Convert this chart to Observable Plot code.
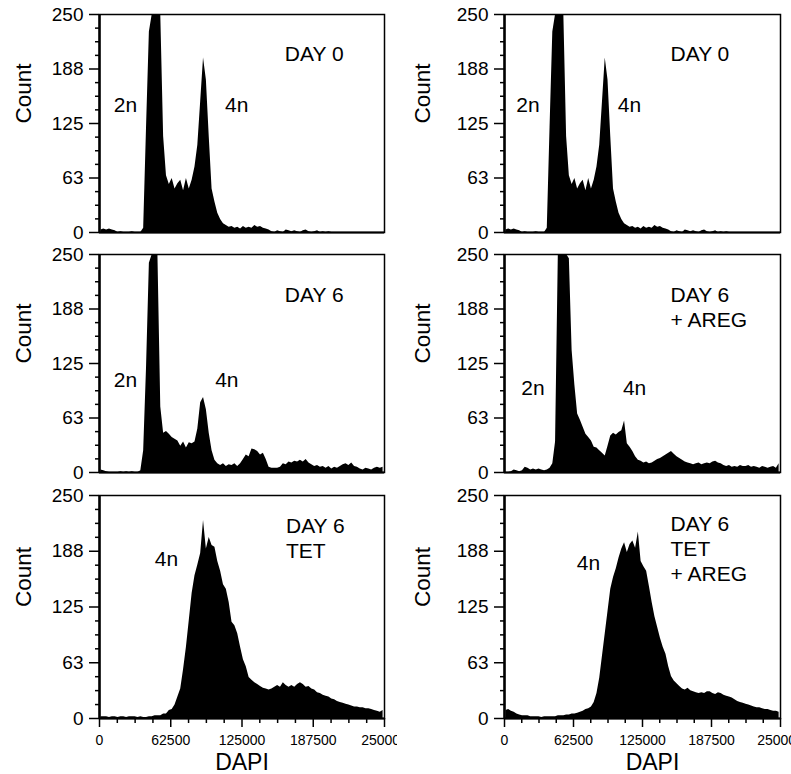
<!DOCTYPE html>
<html><head><meta charset="utf-8">
<script src="https://cdn.jsdelivr.net/npm/d3@7"></script>
<script src="https://cdn.jsdelivr.net/npm/@observablehq/plot@0.6"></script>
<style>
body{margin:0;background:#fff}
#fig{position:relative;width:791px;height:774px;background:#fff;overflow:hidden;font-family:"Liberation Sans",Arial,sans-serif}
</style>
</head><body><div id="fig"></div>
<script>
// DAPI channel bin width (each value below is one bin, from 0 to 250000)
const binWidth = 2500;

const day0 = [3,4,3,4,3,2, 0,1,0,0,0,1,0,0,0,
  5,120,230,250,250,250,250,110,65,
  55,62,50,56,60,48,62,50,60,
  75,100,150,200,175,110,50,35,22,15,10,
  8,6,7,5,6,4,7,5,6,5,8,6,7,5,4,3,
  1,0,2,1,0,3,2,1,2,1,0,2,3,1,0,1,2,0,1,0,1,0,
  0,0,0,0,0,0,0,0,0,0,0,0,0,0,0,0,0,0];

const day6 = [3,2,1,0,0,0,0,1,0,1,0,1,0,0,2,
  25,120,240,250,250,250,75,
  45,47,44,40,38,36,30,35,28,34,33,35,
  50,80,86,72,45,25,14,10,8,10,7,9,8,10,7,10,
  15,20,18,27,26,24,20,22,15,6,5,5,5,6,
  10,9,12,11,13,12,14,12,15,11,9,
  7,8,6,7,5,7,4,6,5,7,9,10,8,11,7,
  6,4,3,5,4,3,5,6,5,6];

const day6Areg = [0,0,1,3,2,1,2,6,5,3,4,3,4,3,2,3,5,
  10,35,250,250,250,250,245,140,100,67,
  60,52,44,40,36,29,28,25,22,19,
  30,42,45,43,46,48,59,33,29,24,18,
  14,13,11,12,10,11,13,15,16,18,20,22,24,21,18,16,
  14,12,11,10,9,10,11,9,10,11,10,12,13,11,10,
  8,7,8,6,7,6,8,7,7,8,6,7,6,5,7,6,5,6,7,5,10];

const day6Tet = [2,2,2,1,2,2,1,2,2,1,2,2,2,1,2,1,1,2,2,3,3,
  3,5,5,9,10,15,24,33,55,80,110,140,160,172,185,
  222,190,203,194,192,176,165,150,145,130,108,104,95,80,
  66,58,46,43,40,38,36,34,33,32,33,35,37,35,
  40,37,35,37,35,38,40,38,35,36,33,32,29,28,26,25,
  24,22,21,19,18,17,16,15,14,13,13,12,12,11,11,10,9,8,7,9];

const day6TetAreg = [9,10,8,7,5,4,3,3,3,2,2,2,2,1,2,2,2,2,2,3,
  3,3,4,4,5,5,6,7,8,10,11,13,18,28,45,70,
  95,120,145,158,168,180,190,197,186,195,199,191,209,176,170,165,
  148,130,114,102,90,80,72,58,47,42,39,36,33,32,34,31,
  30,29,28,29,28,30,30,28,27,29,28,26,25,24,23,21,
  19,18,17,16,15,14,13,12,12,11,10,10,9,8,8,7];

const yTicks = [0, 62.5, 125, 187.5, 250];
const yTickLabels = ["0", "63", "125", "188", "250"];
const yMinorTicks = [15.625, 31.25, 46.875, 78.125, 93.75, 109.375, 140.625, 156.25, 171.875, 203.125, 218.75, 234.375];
const xTicks = [0, 62500, 125000, 187500, 250000];
const xTickLabels = ["0", "62500", "125000", "187500", "250000"];
const xMinorTicks = [15625, 31250, 46875, 78125, 93750, 109375, 140625, 156250, 171875, 203125, 218750, 234375];

const titles = ["DAY 0", "DAY 0", "DAY 6", "DAY 6\n+ AREG", "DAY 6\nTET", "DAY 6\nTET\n+ AREG"];
const seriesList = [day0, day0, day6, day6Areg, day6Tet, day6TetAreg];

// layout + annotation placement (data coordinates)
const cols = [
  {left: 0, width: 397, marginLeft: 99, marginRight: 13, countDx: -76, dapiDx: 0},
  {left: 397, width: 394, marginLeft: 107, marginRight: 11, countDx: -82, dapiDx: 10}
];
const rows = [
  {top: 0, height: 243, marginTop: 14, marginBottom: 11},
  {top: 243, height: 241, marginTop: 11, marginBottom: 12},
  {top: 484, height: 290, marginTop: 11, marginBottom: 56}
];
const annot = [
  {title: [162600, 216.7], peaks: [["2n", 22700, 146], ["4n", 120400, 146]]},
  {title: [150400, 216.7], peaks: [["2n", 21300, 146], ["4n", 113200, 146]]},
  {title: [162600, 216.4], peaks: [["2n", 22700, 106], ["4n", 111700, 106]]},
  {title: [150400, 216.4], peaks: [["2n", 25800, 97], ["4n", 117800, 97]]},
  {title: [163600, 227.6], peaks: [["4n", 58700, 178]]},
  {title: [150400, 230], peaks: [["4n", 76100, 174.5]]}
];

const fig = document.getElementById("fig");
const font = '"Liberation Sans", Arial, sans-serif';

seriesList.forEach((counts, k) => {
  const ci = k % 2, ri = Math.floor(k / 2);
  const c = cols[ci], r = rows[ri];
  const bottom = ri === 2;
  const table = counts.map((v, i) => ({x: (i + 0.5) * binWidth, v}));
  const a = annot[k];
  const marks = [
    Plot.areaY(table, {x: "x", y: "v", fill: "black", curve: "linear"}),
    Plot.frame({stroke: "black", strokeWidth: 1.5}),
    Plot.ruleX([0], {stroke: "black", strokeWidth: 2.5}),
    Plot.ruleY([0], {stroke: "black", strokeWidth: 2}),
    Plot.axisY(yTicks, {tickSize: 10, tickPadding: 6, fontSize: 19, strokeWidth: 1.5, label: null,
      tickFormat: d => yTickLabels[yTicks.indexOf(d)]}),
    Plot.axisY(yMinorTicks, {tickSize: 4, strokeWidth: 1.5, label: null, tickFormat: () => ""}),
    Plot.text(["Count"], {text: d => d, frameAnchor: "left", rotate: -90, fontSize: 22.5, dx: c.countDx, lineAnchor: "middle"}),
    Plot.text([{x: a.title[0], y: a.title[1], t: titles[k]}], {x: "x", y: "y", text: "t", textAnchor: "start", lineAnchor: "top", fontSize: 21, lineHeight: 1.19}),
    Plot.text(a.peaks.map(p => ({t: p[0], x: p[1], y: p[2]})), {x: "x", y: "y", text: "t", textAnchor: "middle", lineAnchor: "middle", fontSize: 21})
  ];
  if (bottom) {
    marks.push(
      Plot.axisX(xTicks, {tickSize: 9, tickPadding: 8, fontSize: 14, strokeWidth: 1.5, label: null,
        tickFormat: d => xTickLabels[xTicks.indexOf(d)]}),
      Plot.axisX(xMinorTicks, {tickSize: 5, strokeWidth: 1.5, label: null, tickFormat: () => ""}),
      Plot.text(["DAPI"], {text: d => d, frameAnchor: "bottom", dy: 44, dx: c.dapiDx, fontSize: 23, lineAnchor: "middle"})
    );
  }
  const svg = Plot.plot({
    width: c.width, height: r.height,
    marginLeft: c.marginLeft, marginRight: c.marginRight,
    marginTop: r.marginTop, marginBottom: r.marginBottom,
    style: {fontFamily: font, color: "black", background: "white", overflow: "hidden"},
    x: {domain: [0, 250000], label: null, axis: bottom ? undefined : null},
    y: {domain: [0, 250], label: null},
    marks
  });
  svg.style.position = "absolute";
  svg.style.left = c.left + "px";
  svg.style.top = r.top + "px";
  svg.style.maxWidth = "none";
  svg.style.overflow = "hidden";
  fig.appendChild(svg);
});
</script>
</body></html>
